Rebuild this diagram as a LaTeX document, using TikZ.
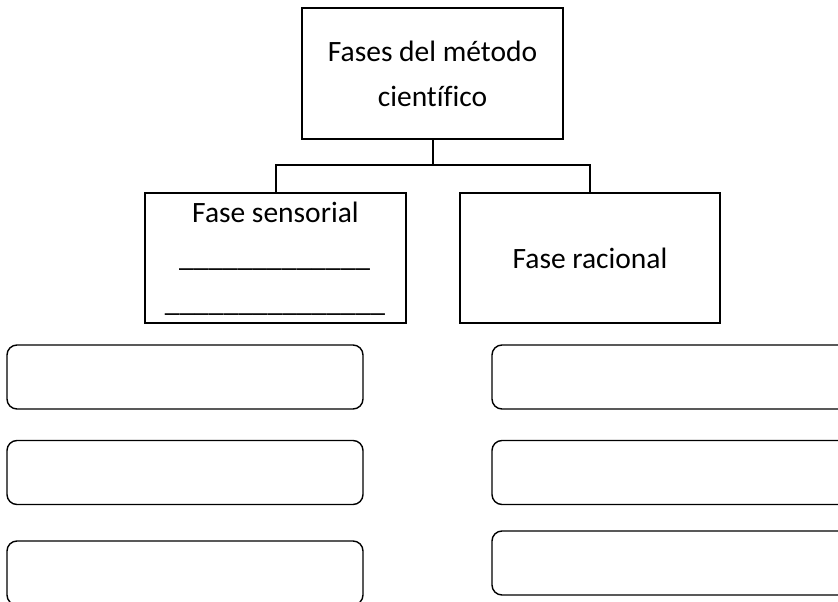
\documentclass[tikz,border=0pt]{standalone}
\usepackage{fontspec}
\setmainfont[Ligatures=NoCommon]{Carlito}

\begin{document}
\begin{tikzpicture}[x=1pt,y=-1pt,
    fase/.style={draw,line width=2pt,inner sep=0pt,align=center,
      font=\fontsize{29.5}{45}\selectfont},
    hueco/.style={draw,line width=1.4pt,rounded corners=10pt,inner sep=0pt,
      minimum height=64pt}]
    \useasboundingbox (0,0) rectangle (838,602);
    \node [fase,minimum width=261pt,minimum height=131pt] (metodo) at (432.5,73.5)
      {Fases del método\\científico};
    \node [fase,minimum width=261pt,minimum height=130pt] (sensorial) at (275.5,258) {};
    \node [fase,minimum width=260pt,minimum height=130pt] (racional) at (590,258)
      {Fase racional};
    \node [font=\fontsize{29.5}{35}\selectfont,anchor=base] at (275.5,222) {Fase sensorial};
    \node [font=\fontsize{29.5}{35}\selectfont,anchor=base] at (274.5,266) {\_\_\_\_\_\_\_\_\_\_\_\_\_};
    \node [font=\fontsize{29.5}{35}\selectfont,anchor=base] at (275,311) {\_\_\_\_\_\_\_\_\_\_\_\_\_\_\_};
    \coordinate (rama) at (432.5,165);
    \draw [line width=2pt] (metodo.south) -- (rama);
    \draw [line width=2pt] (sensorial.north) |- (rama) -| (racional.north);
    % cajas para completar
    \node [hueco,minimum width=356pt] (s1) at (185,377) {};
    \node [hueco,minimum width=356pt] (s2) at (185,472.5) {};
    \node [hueco,minimum width=356pt] (s3) at (185,573) {};
    \node [hueco,minimum width=380pt] (r1) at (682,377) {};
    \node [hueco,minimum width=380pt] (r2) at (682,472.5) {};
    \node [hueco,minimum width=380pt] (r3) at (682,563) {};
\end{tikzpicture}
\end{document}
